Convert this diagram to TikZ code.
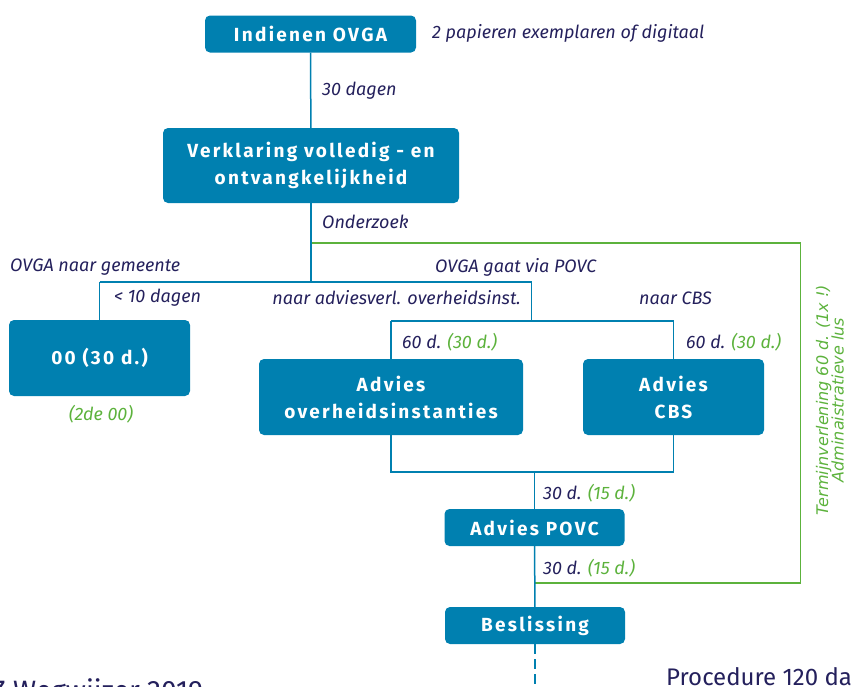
\documentclass[tikz,border=0pt]{standalone}
\usepackage{fontspec}
\setmainfont{Fira Sans}
\newfontfamily\boxfont[LetterSpace=12]{Fira Sans}
\newfontfamily\loopfont{DejaVu Sans}
\definecolor{boxblue}{RGB}{0,128,176}
\definecolor{navy}{RGB}{36,32,92}
\definecolor{loopgreen}{RGB}{92,178,60}

\begin{document}
\begin{tikzpicture}[x=1pt, y=-1pt,
  boxsty/.style={fill=boxblue, rounded corners=5pt, text=white, align=center, inner sep=0pt,
    font=\boxfont\bfseries\fontsize{19}{27}\selectfont},
  labsty/.style={text=navy, inner sep=0pt, font=\itshape\fontsize{18}{20}\selectfont},
  greensty/.style={text=loopgreen, inner sep=0pt, font=\itshape\fontsize{18}{20}\selectfont},
  loopnote/.style={text=loopgreen, inner sep=0pt, align=center, rotate=90,
    font=\loopfont\itshape\fontsize{16}{15.5}\selectfont},
  footsty/.style={text=navy, inner sep=0pt, font=\fontsize{24}{26}\selectfont},
  linesty/.style={draw=boxblue, line width=1.5pt},
  loopsty/.style={draw=loopgreen, line width=1.8pt}]

\useasboundingbox (0,0) rectangle (852,686);
\clip (0,0) rectangle (852,686);

% boxes
\node[boxsty, minimum width=211pt, minimum height=37pt] (indienen) at (310.5,34) {Indienen OVGA};
\node[boxsty, minimum width=296pt, minimum height=75pt] (verklaring) at (311,165.5) {Verklaring volledig - en\\ontvangkelijkheid};
\node[boxsty, minimum width=181pt, minimum height=76pt] (oo) at (99.5,358) {00 (30 d.)};
\node[boxsty, minimum width=264pt, minimum height=76pt] (advoi) at (391,397) {Advies\\overheidsinstanties};
\node[boxsty, minimum width=181pt, minimum height=76pt] (advcbs) at (673.5,397) {Advies\\CBS};
\node[boxsty, minimum width=180pt, minimum height=37pt] (povc) at (534.5,527.5) {Advies POVC};
\node[boxsty, minimum width=180pt, minimum height=37pt] (beslissing) at (535,625.5) {Beslissing};

% branch points
\coordinate (split) at (311,282);
\coordinate (leftend) at (99.5,282);
\coordinate (rightend) at (531.5,282);
\coordinate (advsplit) at (531.5,321);
\coordinate (advleft) at (391,321);
\coordinate (advright) at (673.5,321);
\coordinate (joinleft) at (391,472);
\coordinate (joinright) at (673.5,472);
\coordinate (join) at (534.5,472);
\coordinate (tail) at (535,700);

% administrative loop
\coordinate (loopstart) at (311,243);
\coordinate (looptop) at (800.5,243);
\coordinate (loopbottom) at (800.5,583);
\coordinate (loopend) at (534.5,583);
\draw[loopsty] (loopstart) -- (looptop) -- (loopbottom) -- (loopend);

% connectors
\draw[linesty] (indienen) -- (verklaring);
\draw[linesty] (verklaring) -- (split);
\draw[linesty] (leftend) -- (rightend);
\draw[linesty] (leftend) -- (oo);
\draw[linesty] (rightend) -- (advsplit);
\draw[linesty] (advleft) -- (advright);
\draw[linesty] (advleft) -- (advoi);
\draw[linesty] (advright) -- (advcbs);
\draw[linesty] (advoi) -- (joinleft) -- (joinright) -- (advcbs);
\draw[linesty] (join) -- (povc);
\draw[linesty] (povc) -- (beslissing);
\draw[linesty, dash pattern=on 10pt off 5pt] (beslissing) -- (tail);

% labels
\node[labsty, anchor=west] (lpapier) at (432,33) {2 papieren exemplaren of digitaal};
\node[labsty, anchor=west] (ldertig) at (322,91) {30 dagen};
\node[labsty, anchor=west] (londerzoek) at (322,222) {Onderzoek};
\node[labsty, anchor=west] (lgemeente) at (10,267) {OVGA naar gemeente};
\node[labsty, anchor=west] (lpovc) at (435,267) {OVGA gaat via POVC};
\node[labsty, anchor=west] (ltien) at (114,298) {< 10 dagen};
\node[labsty, anchor=east] (lovh) at (521,298) {naar adviesverl. overheidsinst.};
\node[labsty, anchor=west] (lcbs) at (639,298) {naar CBS};
\node[labsty, anchor=west] (lzestig) at (402,342) {60 d. \textcolor{loopgreen}{(30 d.)}};
\node[labsty, anchor=west] (lzestigb) at (686,342) {60 d. \textcolor{loopgreen}{(30 d.)}};
\node[greensty] (ltweede) at (101,414) {(2de 00)};
\node[labsty, anchor=west] (ldertiga) at (543,493) {30 d. \textcolor{loopgreen}{(15 d.)}};
\node[labsty, anchor=west] (ldertigb) at (543,568) {30 d. \textcolor{loopgreen}{(15 d.)}};
\node[loopnote] (lterm) at (830,400) {Termijnverlening 60 d. (1x !)\\Adminaistratieve lus};

% cut-off page text
\node[footsty, font=\fontsize{28}{30}\selectfont, anchor=base west] (fwegwijzer) at (-9,700) {Z Wegwijzer 2019};
\node[footsty, anchor=base west] (fprocedure) at (666,685) {Procedure 120 dagen};

\end{tikzpicture}
\end{document}
